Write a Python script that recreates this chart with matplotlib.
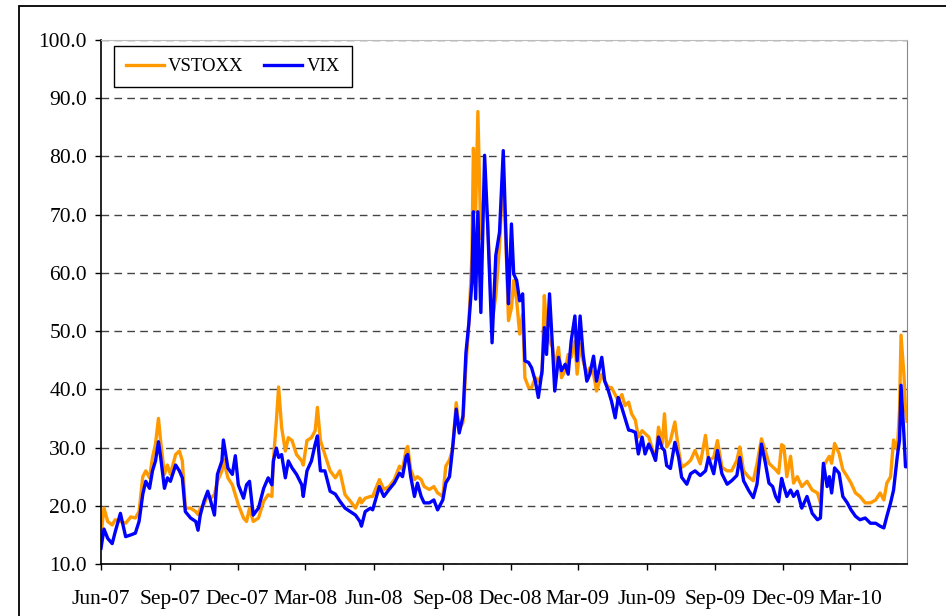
import pandas as pd
import matplotlib
matplotlib.use("Agg")
import matplotlib.pyplot as plt
import matplotlib.dates as mdates
from matplotlib.patches import Rectangle
from matplotlib.ticker import FormatStrFormatter

plt.rcParams['font.family'] = ['Liberation Serif', 'DejaVu Serif']

# readings taken off the chart (roughly 1-2 per week)
dates = [
    '2007-06-01', '2007-06-05', '2007-06-10', '2007-06-16', '2007-06-20', '2007-06-27',
    '2007-07-04', '2007-07-11', '2007-07-17', '2007-07-22', '2007-07-27', '2007-07-31',
    '2007-08-05', '2007-08-09', '2007-08-13', '2007-08-17', '2007-08-20', '2007-08-25',
    '2007-08-29', '2007-09-02', '2007-09-09', '2007-09-14', '2007-09-18', '2007-09-22',
    '2007-09-29', '2007-10-06', '2007-10-09', '2007-10-12', '2007-10-17', '2007-10-22',
    '2007-10-26', '2007-10-31', '2007-11-04', '2007-11-10', '2007-11-12', '2007-11-18',
    '2007-11-24', '2007-11-28', '2007-12-02', '2007-12-09', '2007-12-13', '2007-12-17',
    '2007-12-22', '2007-12-29', '2008-01-05', '2008-01-11', '2008-01-16', '2008-01-18',
    '2008-01-22', '2008-01-25', '2008-01-29', '2008-02-03', '2008-02-07', '2008-02-12',
    '2008-02-18', '2008-02-25', '2008-02-27', '2008-03-03', '2008-03-09', '2008-03-14',
    '2008-03-17', '2008-03-21', '2008-03-27', '2008-04-03', '2008-04-10', '2008-04-16',
    '2008-04-23', '2008-04-30', '2008-05-07', '2008-05-13', '2008-05-15', '2008-05-20',
    '2008-05-27', '2008-05-30', '2008-06-08', '2008-06-14', '2008-06-21', '2008-06-28',
    '2008-07-05', '2008-07-09', '2008-07-14', '2008-07-16', '2008-07-20', '2008-07-25',
    '2008-07-29', '2008-08-03', '2008-08-07', '2008-08-14', '2008-08-20', '2008-08-25',
    '2008-09-01', '2008-09-05', '2008-09-10', '2008-09-14', '2008-09-19', '2008-09-23',
    '2008-09-28', '2008-10-02', '2008-10-06', '2008-10-10', '2008-10-12', '2008-10-15',
    '2008-10-18', '2008-10-22', '2008-10-27', '2008-10-31', '2008-11-06', '2008-11-11',
    '2008-11-16', '2008-11-21', '2008-11-26', '2008-11-28', '2008-12-02', '2008-12-05',
    '2008-12-09', '2008-12-13', '2008-12-17', '2008-12-20', '2008-12-25', '2008-12-29',
    '2009-01-03', '2009-01-07', '2009-01-12', '2009-01-15', '2009-01-18', '2009-01-22',
    '2009-01-26', '2009-01-29', '2009-02-03', '2009-02-07', '2009-02-12', '2009-02-16',
    '2009-02-20', '2009-02-25', '2009-02-28', '2009-03-04', '2009-03-08', '2009-03-13',
    '2009-03-17', '2009-03-22', '2009-03-26', '2009-04-02', '2009-04-06', '2009-04-11',
    '2009-04-15', '2009-04-20', '2009-04-24', '2009-04-29', '2009-05-03', '2009-05-08',
    '2009-05-12', '2009-05-17', '2009-05-21', '2009-05-26', '2009-05-30', '2009-06-04',
    '2009-06-08', '2009-06-13', '2009-06-17', '2009-06-22', '2009-06-25', '2009-06-28',
    '2009-07-03', '2009-07-09', '2009-07-14', '2009-07-18', '2009-07-25', '2009-07-30',
    '2009-08-05', '2009-08-12', '2009-08-19', '2009-08-23', '2009-08-30', '2009-09-04',
    '2009-09-10', '2009-09-17', '2009-09-23', '2009-09-30', '2009-10-04', '2009-10-09',
    '2009-10-16', '2009-10-22', '2009-10-27', '2009-11-02', '2009-11-07', '2009-11-12',
    '2009-11-17', '2009-11-21', '2009-11-25', '2009-11-29', '2009-12-02', '2009-12-06',
    '2009-12-11', '2009-12-15', '2009-12-20', '2009-12-26', '2010-01-02', '2010-01-09',
    '2010-01-16', '2010-01-20', '2010-01-24', '2010-01-29', '2010-02-01', '2010-02-04',
    '2010-02-08', '2010-02-14', '2010-02-19', '2010-02-25', '2010-03-02', '2010-03-08',
    '2010-03-14', '2010-03-21', '2010-03-28', '2010-04-04', '2010-04-10', '2010-04-15',
    '2010-04-19', '2010-04-24', '2010-04-28', '2010-05-03', '2010-05-06', '2010-05-08',
    '2010-05-12', '2010-05-14', '2010-05-16',
]

vstoxx = [
    15.0, 19.6, 17.3, 16.7, 17.6, 17.3,
    17.0, 18.1, 17.9, 19.0, 25.0, 26.0,
    24.8, 28.3, 30.6, 35.0, 31.0, 25.4,
    27.0, 25.4, 28.8, 29.4, 27.7, 19.6,
    19.6, 19.0, 18.5, 19.6, 20.2, 21.9,
    21.3, 21.9, 24.2, 26.0, 28.0, 24.8,
    23.6, 21.9, 20.2, 17.9, 17.3, 19.6,
    17.3, 17.9, 20.8, 21.9, 21.6, 27.7,
    34.6, 40.4, 33.5, 29.4, 31.7, 31.2,
    28.8, 27.7, 27.0, 31.2, 31.7, 32.9,
    36.9, 31.2, 28.8, 26.0, 24.8, 26.0,
    21.9, 20.8, 19.6, 21.3, 20.5, 21.3,
    21.6, 21.6, 24.5, 22.8, 23.3, 24.5,
    26.8, 26.2, 29.7, 30.2, 26.2, 24.5,
    25.0, 24.5, 23.3, 22.8, 23.3, 22.2,
    21.6, 26.8, 27.9, 29.7, 37.7, 33.1,
    34.3, 44.0, 51.5, 63.0, 81.4, 70.5,
    87.7, 65.9, 75.0, 68.7, 51.5, 56.0,
    64.7, 77.4, 59.8, 51.8, 54.0, 58.7,
    55.2, 49.5, 52.9, 42.0, 40.3, 40.3,
    42.0, 41.4, 42.6, 56.1, 50.6, 48.3,
    47.2, 43.7, 47.2, 42.0, 43.2, 46.0,
    45.5, 48.3, 42.6, 47.8, 44.9, 42.6,
    43.7, 42.6, 39.7, 42.6, 41.4, 40.3,
    40.3, 39.1, 38.0, 39.1, 37.2, 37.8,
    35.8, 34.7, 31.8, 32.9, 32.4, 31.8,
    30.1, 27.8, 33.5, 30.6, 35.8, 30.1,
    31.2, 34.4, 29.5, 26.6, 27.2, 27.8,
    29.5, 27.2, 32.1, 27.8, 28.3, 31.2,
    26.6, 26.0, 26.0, 27.8, 30.1, 26.0,
    24.9, 24.3, 27.2, 31.5, 29.5, 27.3,
    26.7, 26.2, 25.6, 30.5, 30.2, 25.0,
    28.5, 23.9, 25.0, 23.3, 24.2, 22.7,
    22.2, 20.5, 26.7, 27.9, 28.5, 27.3,
    30.7, 29.0, 26.2, 25.0, 23.9, 22.2,
    21.6, 20.5, 20.5, 21.0, 22.2, 21.0,
    23.9, 25.0, 31.3, 29.6, 36.5, 49.3,
    42.2, 36.5, 34.5,
]

vix = [
    12.7, 16.0, 14.4, 13.5, 15.5, 18.7,
    14.7, 15.0, 15.3, 17.3, 22.0, 24.2,
    23.0, 26.0, 27.7, 31.0, 28.3, 23.0,
    24.8, 24.2, 27.0, 26.0, 24.8, 19.0,
    17.9, 17.3, 15.8, 18.4, 20.8, 22.5,
    20.8, 18.4, 25.4, 27.7, 31.3, 26.5,
    25.4, 28.6, 23.6, 21.3, 23.6, 24.2,
    18.4, 19.6, 23.0, 24.8, 23.6, 27.7,
    29.9, 28.3, 28.8, 24.8, 27.7, 26.5,
    25.4, 23.6, 21.6, 26.0, 27.7, 30.6,
    32.0, 26.0, 26.0, 22.5, 22.0, 20.8,
    19.6, 19.0, 18.4, 17.3, 16.5, 19.0,
    19.6, 19.3, 23.3, 21.6, 22.8, 23.9,
    25.6, 25.0, 28.5, 28.8, 25.0, 21.6,
    23.9, 21.6, 20.5, 20.5, 21.0, 19.3,
    21.0, 23.9, 25.0, 29.7, 36.6, 32.5,
    35.4, 46.3, 51.5, 58.4, 70.5, 55.5,
    70.5, 53.2, 80.2, 68.7, 48.0, 63.0,
    67.0, 81.0, 61.0, 54.7, 68.4, 59.8,
    58.7, 55.2, 56.4, 44.9, 44.6, 43.7,
    41.4, 38.6, 43.2, 50.6, 46.0, 56.4,
    47.2, 39.7, 45.5, 43.2, 44.3, 42.6,
    48.3, 52.6, 44.9, 52.6, 46.0, 41.4,
    42.6, 45.7, 41.4, 45.5, 41.4, 39.7,
    38.0, 35.1, 38.6, 36.8, 35.1, 33.0,
    32.9, 32.6, 28.9, 31.8, 28.9, 30.6,
    29.5, 27.8, 31.8, 29.9, 29.5, 26.9,
    26.4, 30.9, 28.3, 24.9, 23.7, 25.5,
    26.0, 25.2, 26.0, 28.3, 25.5, 29.5,
    25.5, 23.7, 24.3, 25.2, 28.3, 24.3,
    22.6, 21.4, 23.7, 30.6, 27.5, 23.9,
    23.3, 21.6, 20.7, 24.7, 23.3, 21.6,
    22.7, 21.6, 22.5, 19.6, 21.6, 18.7,
    17.6, 17.9, 27.3, 23.3, 25.0, 22.2,
    26.5, 25.6, 21.6, 20.5, 19.3, 18.2,
    17.6, 17.9, 17.0, 17.0, 16.5, 16.2,
    18.2, 20.5, 22.7, 28.5, 31.3, 40.7,
    31.9, 26.7, 26.7,
]

x = pd.to_datetime(dates)

fig = plt.figure(figsize=(9.46, 6.16), dpi=100)
ax = fig.add_axes([101 / 946, 1 - 564 / 616, 806 / 946, 524 / 616])

# outer chart-area border (cut off at right / bottom like the original)
fig.add_artist(Rectangle((19 / 946, -0.1), 1.2, 1.1 - 6 / 616,
                         transform=fig.transFigure, fill=False, lw=1.3, ec='black'))

ax.plot(x, vstoxx, color='#FF9900', lw=2.4, label='VSTOXX')
ax.plot(x, vix, color='#0000FF', lw=2.4, label='VIX')

ax.set_ylim(10, 100)
ax.set_yticks(range(10, 101, 10))
ax.yaxis.set_major_formatter(FormatStrFormatter('%.1f'))
ax.set_xlim(pd.Timestamp('2007-06-01'), pd.Timestamp('2010-05-16'))
ax.xaxis.set_major_locator(mdates.MonthLocator(bymonth=[3, 6, 9, 12]))
ax.xaxis.set_major_formatter(mdates.DateFormatter('%b-%y'))

ax.grid(axis='y', color='#444444', lw=1.0, linestyle=(0, (5.5, 3.8)))
ax.set_axisbelow(True)

ax.tick_params(axis='both', labelsize=15.5, direction='out', length=4, width=1, color='black')
ax.tick_params(axis='x', pad=15)
ax.tick_params(axis='y', pad=6)

ax.spines['left'].set_color('black')
ax.spines['bottom'].set_color('black')
ax.spines['left'].set_linewidth(1.2)
ax.spines['bottom'].set_linewidth(1.2)
ax.spines['right'].set_color('#888888')
ax.spines['top'].set_color('#bbbbbb')

leg = ax.legend(loc='upper left', bbox_to_anchor=(0.016, 0.989), ncol=2, fontsize=13.5,
                frameon=True, fancybox=False, edgecolor='black', borderpad=0.65,
                handlelength=2.0, handletextpad=0.25, columnspacing=1.1,
                borderaxespad=0)
leg.get_frame().set_linewidth(1.0)
leg.get_frame().set_alpha(1)

fig.savefig('out.png', dpi=100)
